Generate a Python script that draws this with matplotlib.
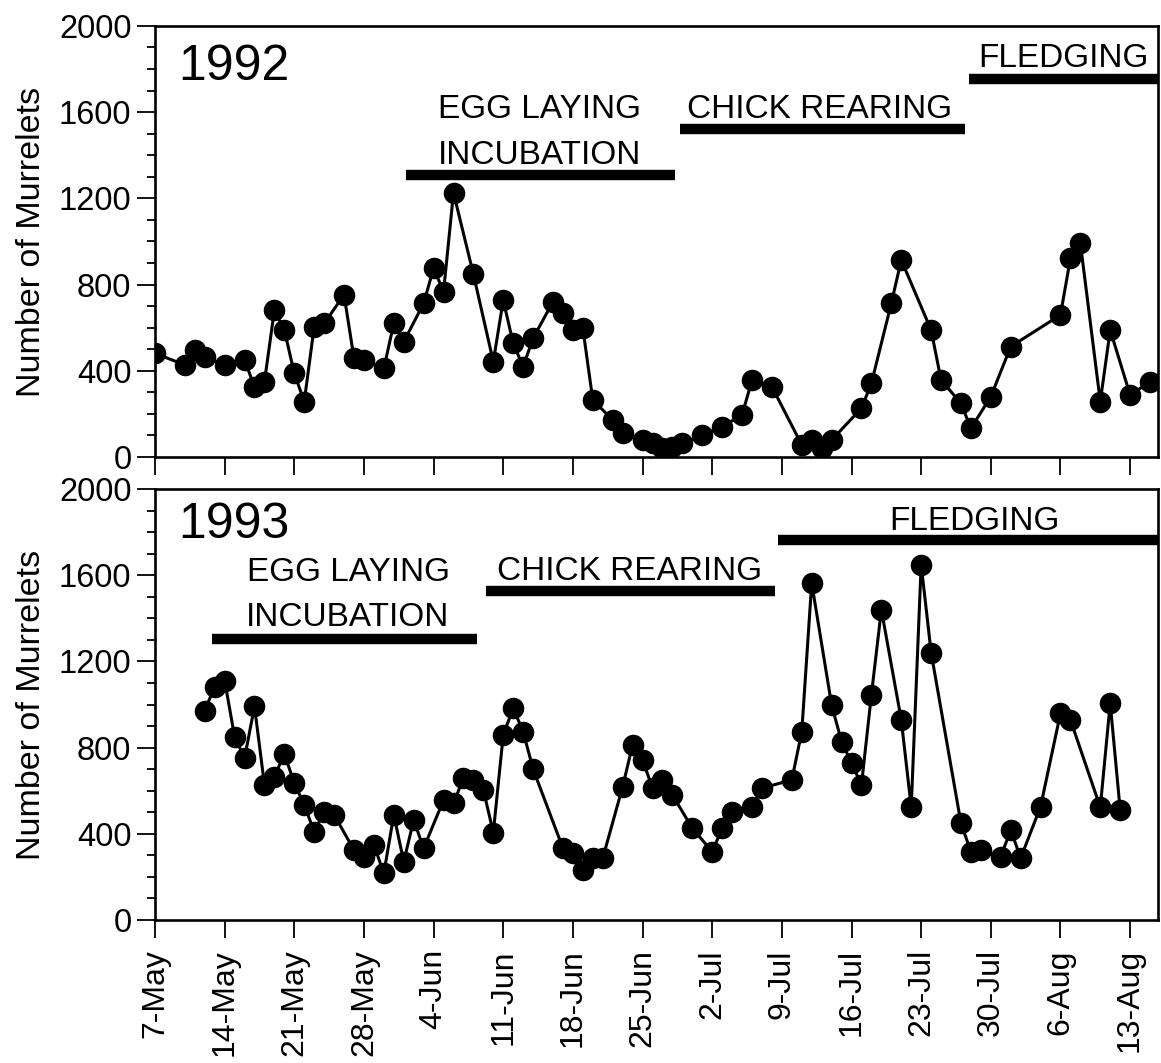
import numpy as np
import matplotlib
matplotlib.use('Agg')
import matplotlib.pyplot as plt
from matplotlib.ticker import MultipleLocator

plt.rcParams['font.family'] = ['Liberation Sans', 'DejaVu Sans']

# 日期刻度（距 5月7日 的天数）
tick_days = [0, 7, 14, 21, 28, 35, 42, 49, 56, 63, 70, 77, 84, 91, 98]
tick_labels = ['7-May', '14-May', '21-May', '28-May', '4-Jun', '11-Jun', '18-Jun',
               '25-Jun', '2-Jul', '9-Jul', '16-Jul', '23-Jul', '30-Jul', '6-Aug', '13-Aug']

# 1992 年调查数据
days_1992 = [0, 3, 4, 5, 7, 9, 10, 11, 12, 13, 14, 15, 16, 17, 19, 20, 21, 23, 24, 25,
             27, 28, 29, 30, 32, 34, 35, 36, 37, 38, 40, 41, 42, 43, 44, 46, 47, 49, 50, 51,
             52, 53, 55, 57, 59, 60, 62, 65, 66, 67, 68, 71, 72, 74, 75, 78, 79, 81, 82, 84,
             86, 91, 92, 93, 95, 96, 98, 100]
counts_1992 = [481, 427, 496, 465, 427, 450, 326, 349, 682, 589, 388, 257, 605, 620, 752, 458,
               450, 411, 620, 535, 713, 876, 767, 1226, 848, 442, 728, 527, 419, 551, 721, 667,
               589, 597, 264, 172, 110, 79, 64, 40, 48, 64, 102, 141, 195, 357, 326, 56, 79, 40,
               79, 226, 342, 713, 914, 589, 357, 249, 133, 280, 512, 659, 922, 992, 257, 589,
               288, 349]

# 1993 年调查数据
days_1993 = [5, 6, 7, 8, 9, 10, 11, 12, 13, 14, 15, 16, 17, 18, 20, 21, 22, 23, 24, 25,
             26, 27, 29, 30, 31, 32, 33, 34, 35, 36, 37, 38, 41, 42, 43, 44, 45, 47, 48, 49,
             50, 51, 52, 54, 56, 57, 58, 60, 61, 64, 65, 66, 68, 69, 70, 71, 72, 73, 75, 76,
             77, 78, 81, 82, 83, 85, 86, 87, 89, 91, 92, 95, 96, 97]
counts_1993 = [972, 1083, 1111, 851, 751, 991, 627, 665, 771, 635, 534, 410, 503, 488, 325, 294,
               348, 217, 488, 271, 464, 333, 557, 542, 658, 650, 604, 406, 859, 983, 874, 700,
               333, 310, 232, 287, 287, 619, 813, 743, 612, 650, 580, 426, 317, 426, 503, 526,
               612, 650, 874, 1563, 998, 828, 728, 627, 1045, 1440, 929, 523, 1649, 1241, 449,
               317, 325, 294, 418, 287, 526, 959, 929, 523, 1006, 511]

# 繁殖阶段：(名称, 起始天, 结束天, 横线高度, 文字中心, 文字基线)
x_end = 100.8
stages_1992 = [
    ('EGG LAYING\nINCUBATION', 25.2, 52.3, 1308, 38.6, 1360),
    ('CHICK REARING', 52.8, 81.4, 1522, 66.8, 1572),
    ('FLEDGING', 81.8, x_end, 1754, 91.3, 1811),
]
stages_1993 = [
    ('EGG LAYING\nINCUBATION', 5.7, 32.4, 1305, 19.4, 1362),
    ('CHICK REARING', 33.3, 62.3, 1525, 47.7, 1579),
    ('FLEDGING', 62.6, x_end, 1765, 82.4, 1811),
]


def draw_panel(ax, days, counts, year, year_y, stages, show_xlabels):
    # 折线 + 圆点
    ax.plot(days, counts, '-o', color='black', lw=2.2, ms=14.5, zorder=3)
    ax.set_xlim(0, x_end)
    ax.set_ylim(0, 2000)
    ax.yaxis.set_major_locator(MultipleLocator(400))
    ax.yaxis.set_minor_locator(MultipleLocator(100))
    ax.set_xticks(tick_days)
    ax.tick_params(axis='y', which='major', direction='out', length=13, width=1.3,
                   labelsize=23.5, pad=4)
    ax.tick_params(axis='y', which='minor', direction='out', length=6, width=1.3)
    ax.tick_params(axis='x', which='major', direction='out', length=13, width=1.3,
                   labelsize=23, pad=8, labelbottom=show_xlabels)
    if show_xlabels:
        ax.set_xticklabels(tick_labels, rotation=90)
    for side in ['left', 'right', 'top', 'bottom']:
        ax.spines[side].set_linewidth(1.9)
    ax.set_ylabel('Number of Murrelets', fontsize=24.5)
    ax.yaxis.set_label_coords(-0.108, 0.5)
    # 年份
    ax.text(0.023, year_y, year, transform=ax.transAxes, fontsize=36,
            ha='left', va='baseline')
    # 繁殖阶段横线与文字
    for name, x0, x1, yb, xt, yt in stages:
        ax.hlines(yb, x0, x1, color='black', lw=7.5, capstyle='butt', zorder=2)
        lines = name.split('\n')
        for i, line in enumerate(lines):
            ax.text(xt, yt + 213 * (len(lines) - 1 - i), line, fontsize=24,
                    ha='center', va='baseline')


fig = plt.figure(figsize=(11.61, 10.63), dpi=100)
ax1 = fig.add_axes([0.1335, 0.5701, 0.8639, 0.4055])
ax2 = fig.add_axes([0.1335, 0.1345, 0.8639, 0.4055])

draw_panel(ax1, days_1992, counts_1992, '1992', 0.875, stages_1992, False)
draw_panel(ax2, days_1993, counts_1993, '1993', 0.886, stages_1993, True)

fig.savefig('out.png', dpi=100, facecolor='white')
